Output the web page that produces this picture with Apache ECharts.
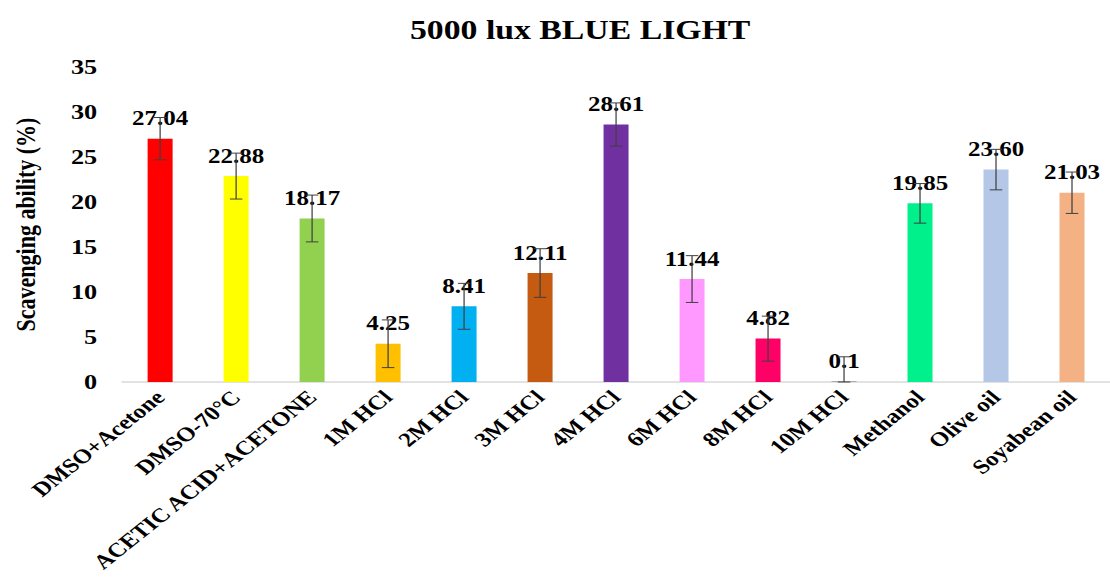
<!DOCTYPE html>
<html><head><meta charset="utf-8">
<script src="https://cdn.jsdelivr.net/npm/echarts@6/dist/echarts.min.js"></script>
<style>
html,body{margin:0;padding:0;background:#fff;overflow:hidden}
#wrap{width:1110px;height:578px;overflow:hidden}
#c{width:888px;height:578px;transform:scaleX(1.25);transform-origin:0 0}
</style>
</head><body><div id="wrap"><div id="c"></div></div>
<script>
const categories = ['DMSO+Acetone','DMSO-70°C','ACETIC ACID+ACETONE','1M HCl','2M HCl','3M HCl','4M HCl','6M HCl','8M HCl','10M HCl','Methanol','Olive oil','Soyabean oil'];
const values = [27.04, 22.88, 18.17, 4.25, 8.41, 12.11, 28.61, 11.44, 4.82, 0.1, 19.85, 23.60, 21.03];
const valueLabels = ['27.04','22.88','18.17','4.25','8.41','12.11','28.61','11.44','4.82','0.1','19.85','23.60','21.03'];
const errors = [2.35, 2.55, 2.6, 2.65, 2.55, 2.7, 2.4, 2.6, 2.5, 2.7, 2.2, 2.25, 2.3];
const colors = ['#FF0000','#FFFF00','#92D050','#FFC000','#00B0F0','#C55A11','#7030A0','#FF99FF','#FF0066','#A6A6A6','#00F08C','#B4C7E7','#F4B183'];
const yTicks = [0, 5, 10, 15, 20, 25, 30, 35];

const font = "'Liberation Serif','Times New Roman',serif";
const chart = echarts.init(document.getElementById('c'), null, { renderer: 'svg' });
chart.setOption({
  animation: false,
  title: { text: '5000 lux BLUE LIGHT', left: 323, top: 12,
    textStyle: { fontFamily: font, fontWeight: 'bold', fontSize: 27, color: '#000' } },
  grid: { left: 97.7, width: 798.6, top: 67, bottom: 196, containLabel: false },
  xAxis: {
    type: 'category', data: categories,
    axisLine: { show: true, lineStyle: { color: '#D9D9D9', width: 1.5 } },
    axisTick: { show: false },
    axisLabel: { interval: 0, rotate: 45, fontFamily: font, fontWeight: 'bold', fontSize: 20, color: '#000', margin: 12 }
  },
  yAxis: {
    type: 'value', min: yTicks[0], max: yTicks[yTicks.length - 1], interval: 5,
    name: 'Scavenging ability (%)', nameLocation: 'middle', nameGap: 66, nameRotate: 90,
    nameTextStyle: { fontFamily: font, fontWeight: 'bold', fontSize: 22, color: '#000' },
    axisLine: { show: false }, axisTick: { show: false }, splitLine: { show: false },
    axisLabel: { fontFamily: font, fontWeight: 'bold', fontSize: 21, color: '#000', margin: 20 }
  },
  series: [
    {
      type: 'bar', barWidth: 20,
      data: values.map((v, i) => ({ value: v, itemStyle: { color: colors[i] } })),
      label: { show: true, position: 'top', distance: 10,
        formatter: p => valueLabels[p.dataIndex],
        fontFamily: font, fontWeight: 'bold', fontSize: 20, color: '#000' }
    },
    {
      type: 'custom', z: 10,
      data: values.map((v, i) => [i, v, errors[i]]),
      renderItem: function (params, api) {
        const x = api.value(0), v = api.value(1), e = api.value(2);
        const hi = api.coord([x, v + e]);
        const lo = api.coord([x, Math.max(0, v - e)]);
        const w = 5;
        const st = { stroke: '#404040', lineWidth: 1 };
        return { type: 'group', children: [
          { type: 'line', shape: { x1: hi[0], y1: hi[1], x2: lo[0], y2: lo[1] }, style: st },
          { type: 'line', shape: { x1: hi[0] - w, y1: hi[1], x2: hi[0] + w, y2: hi[1] }, style: st },
          { type: 'line', shape: { x1: lo[0] - w, y1: lo[1], x2: lo[0] + w, y2: lo[1] }, style: st }
        ]};
      }
    }
  ]
});
</script></body></html>
